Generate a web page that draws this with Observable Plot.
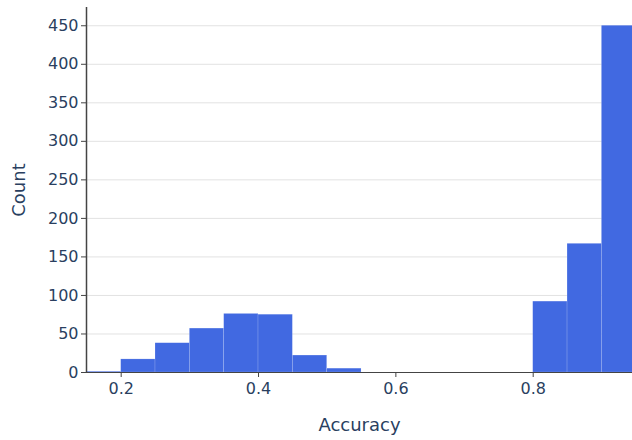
<!DOCTYPE html>
<html>
<head>
<meta charset="utf-8">
<script src="https://cdn.jsdelivr.net/npm/d3@7"></script>
<script src="https://cdn.jsdelivr.net/npm/@observablehq/plot@0.6"></script>
<style>
  html, body { margin: 0; padding: 0; background: white; }
  #chart svg { overflow: hidden; }
</style>
</head>
<body>
<div id="chart"></div>
<script>
const binStart = [0.15, 0.20, 0.25, 0.30, 0.35, 0.40, 0.45, 0.50, 0.55, 0.60, 0.65, 0.70, 0.75, 0.80, 0.85, 0.90];
const binEnd   = [0.20, 0.25, 0.30, 0.35, 0.40, 0.45, 0.50, 0.55, 0.60, 0.65, 0.70, 0.75, 0.80, 0.85, 0.90, 0.95];
const counts   = [1, 17, 38, 57, 76, 75, 22, 5, 0, 0, 0, 0, 0, 92, 167, 450];
const xTicks = [0.2, 0.4, 0.6, 0.8];
const yTicks = [0, 50, 100, 150, 200, 250, 300, 350, 400, 450];

const data = binStart.map((s, i) => ({x1: s, x2: binEnd[i], count: counts[i]}));
const xDomain = [0.1495, 0.9446];
const textColor = "#2a3f5f";
const font = "'DejaVu Sans', Verdana, sans-serif";

const chart = Plot.plot({
  width: 632,
  height: 440,
  marginLeft: 86,
  marginRight: 0,
  marginTop: 7,
  marginBottom: 68,
  style: {fontFamily: font, fontSize: "16px", color: textColor, background: "white"},
  x: {domain: xDomain},
  y: {domain: [0, 473.7]},
  marks: [
    Plot.gridY(yTicks.filter(d => d > 0), {stroke: "#e2e2e2", strokeOpacity: 1, strokeWidth: 1}),
    Plot.rectY(data.filter(d => d.count > 0), {x1: "x1", x2: "x2", y: "count", fill: "#4169e1", stroke: "#ffffff", strokeOpacity: 0.3, strokeWidth: 0.5}),
    Plot.ruleY([0], {stroke: "#444", strokeWidth: 1}),
    Plot.ruleX([xDomain[0]], {stroke: "#444", strokeWidth: 1.5}),
    Plot.axisY(yTicks, {tickSize: 5, tickPadding: 3, stroke: "#444", fill: textColor, fontSize: 16,
      label: "Count", labelAnchor: "center", labelArrow: "none", labelOffset: 74}),
    Plot.axisX(xTicks, {tickSize: 5, tickPadding: 5, stroke: "#444", fill: textColor, fontSize: 16,
      tickFormat: d => d.toFixed(1),
      label: "Accuracy", labelAnchor: "center", labelArrow: "none", labelOffset: 58})
  ]
});

chart.querySelectorAll("[aria-label='y-axis label'] text, [aria-label='x-axis label'] text").forEach(t => {
  t.setAttribute("font-size", "18");
  t.style.fontSize = "18px";
  t.setAttribute("fill", textColor);
});
document.getElementById("chart").appendChild(chart);
</script>
</body>
</html>
